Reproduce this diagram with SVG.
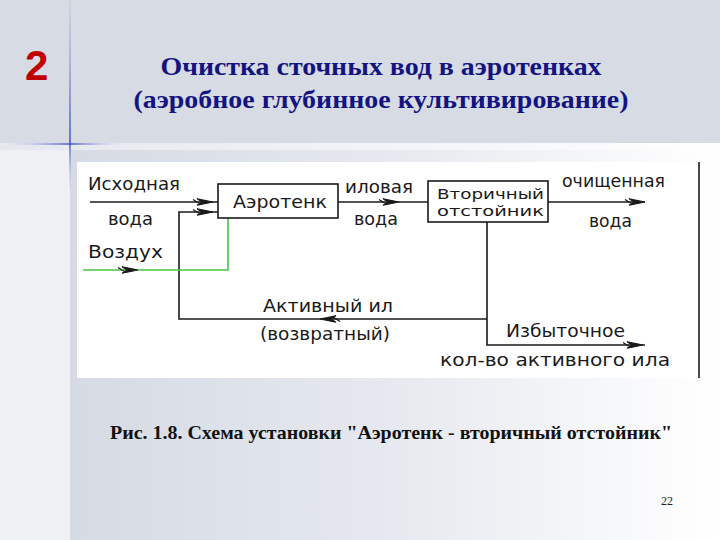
<svg xmlns="http://www.w3.org/2000/svg" width="720" height="540" viewBox="0 0 720 540">
<defs>
<linearGradient id="bgLow" x1="0" y1="0" x2="1" y2="0">
<stop offset="0" stop-color="#d2d7e1"/>
<stop offset="0.55" stop-color="#e6e9ef"/>
<stop offset="1" stop-color="#ffffff"/>
</linearGradient>
<linearGradient id="band" x1="0" y1="0" x2="1" y2="0">
<stop offset="0" stop-color="#e4e7ee"/>
<stop offset="1" stop-color="#ffffff"/>
</linearGradient>
<linearGradient id="vline" x1="0" y1="0" x2="0" y2="1">
<stop offset="0" stop-color="#c8ccd8" stop-opacity="0.6"/>
<stop offset="0.75" stop-color="#3a44c0"/>
<stop offset="1" stop-color="#c8ccd8" stop-opacity="0.2"/>
</linearGradient>
<linearGradient id="hline" x1="0" y1="0" x2="1" y2="0">
<stop offset="0" stop-color="#ffffff" stop-opacity="0.3"/>
<stop offset="0.54" stop-color="#3a44c0"/>
<stop offset="1" stop-color="#ffffff" stop-opacity="0.2"/>
</linearGradient>
<path id="ah" d="M0,0 L-16,-3.2 L-11,0 L-16,3.2 Z M-20,-2.5 L-12,2.5"/>
<style>
.ln{stroke:#1a1a1a;stroke-width:1.6;fill:none}
.gr{stroke:#48c848;stroke-width:1.6;fill:none}
.box{fill:#ffffff;stroke:#1a1a1a;stroke-width:1.6}
.ah{fill:#1a1a1a;stroke:#1a1a1a;stroke-width:1.2}
.cad{font-family:"DejaVu Sans",sans-serif;font-size:17px;fill:#1a1a1a;font-weight:normal}
.cad14{font-family:"DejaVu Sans",sans-serif;font-size:14px;fill:#1a1a1a;font-weight:normal}
.title{font-family:"Liberation Serif",serif;font-weight:bold;font-size:26px;fill:#141480;text-anchor:middle}
.cap{font-family:"Liberation Serif",serif;font-weight:bold;font-size:19px;fill:#111111}
</style>
</defs>

<!-- background -->
<rect x="0" y="0" width="720" height="540" fill="url(#bgLow)"/>
<rect x="0" y="150" width="70" height="390" fill="#eef0f4"/>
<rect x="0" y="0" width="720" height="143" fill="#d6dbe4"/>
<rect x="0" y="143" width="720" height="7" fill="url(#band)"/>
<rect x="69.3" y="0" width="1.4" height="190" fill="url(#vline)"/>
<rect x="0" y="143.3" width="130" height="1.4" fill="url(#hline)"/>

<!-- header -->
<text x="25" y="80" font-family="Liberation Sans, sans-serif" font-weight="bold" font-size="42" fill="#c00000">2</text>
<text class="title" x="381" y="75" textLength="441" lengthAdjust="spacingAndGlyphs">Очистка сточных вод в аэротенках</text>
<text class="title" x="381" y="108" textLength="495" lengthAdjust="spacingAndGlyphs">(аэробное глубинное культивирование)</text>

<!-- diagram panel -->
<rect x="77" y="162" width="626" height="216" fill="#ffffff"/>
<line x1="699" y1="162" x2="699" y2="378" stroke="#1a1a1a" stroke-width="1.6"/>

<g id="connectors">
<polyline class="ln" points="90,202 218,202"/>
<polyline class="ln" points="487,319 179,319 179,212 218,212"/>
<polyline class="gr" points="83,270 228,270 228,218"/>
<polyline class="ln" points="338,202 428,202"/>
<polyline class="ln" points="548,202 645,202"/>
<polyline class="ln" points="487,222 487,345 645,345"/>
<use href="#ah" class="ah" transform="translate(213,202)"/>
<use href="#ah" class="ah" transform="translate(213,212)"/>
<use href="#ah" class="ah" transform="translate(138,270)"/>
<use href="#ah" class="ah" transform="translate(399,202)"/>
<use href="#ah" class="ah" transform="translate(645,202)"/>
<use href="#ah" class="ah" transform="translate(320,319) rotate(180)"/>
<use href="#ah" class="ah" transform="translate(643,345)"/>
</g>

<g id="aerotank">
<rect class="box" x="218" y="184" width="120" height="34"/>
<text class="cad" x="233" y="208" textLength="94" lengthAdjust="spacingAndGlyphs">Аэротенк</text>
</g>

<g id="settler">
<rect class="box" x="428" y="181" width="120" height="41"/>
<text class="cad14" x="437" y="199" textLength="107" lengthAdjust="spacingAndGlyphs">Вторичный</text>
<text class="cad14" x="437" y="216" textLength="107" lengthAdjust="spacingAndGlyphs">отстойник</text>
</g>

<g id="labels">
<text class="cad" x="88" y="190" textLength="92" lengthAdjust="spacingAndGlyphs">Исходная</text>
<text class="cad" x="108" y="225" textLength="45" lengthAdjust="spacingAndGlyphs">вода</text>
<text class="cad" x="88" y="258" textLength="75" lengthAdjust="spacingAndGlyphs">Воздух</text>
<text class="cad" x="345" y="193" textLength="68" lengthAdjust="spacingAndGlyphs">иловая</text>
<text class="cad" x="354" y="225" textLength="44" lengthAdjust="spacingAndGlyphs">вода</text>
<text class="cad" x="562" y="187" textLength="103" lengthAdjust="spacingAndGlyphs">очищенная</text>
<text class="cad" x="589" y="227" textLength="43" lengthAdjust="spacingAndGlyphs">вода</text>
<text class="cad" x="263" y="312" textLength="130" lengthAdjust="spacingAndGlyphs">Активный  ил</text>
<text class="cad" x="260" y="340" textLength="130" lengthAdjust="spacingAndGlyphs">(возвратный)</text>
<text class="cad" x="506" y="337" textLength="119" lengthAdjust="spacingAndGlyphs">Избыточное</text>
<text class="cad" x="440" y="366" textLength="230" lengthAdjust="spacingAndGlyphs">кол-во активного ила</text>
</g>

<!-- caption -->
<text class="cap" x="110" y="439" textLength="562" lengthAdjust="spacingAndGlyphs">Рис. 1.8. Схема установки "Аэротенк - вторичный отстойник"</text>
<text x="661" y="505" font-family="Liberation Serif, serif" font-size="12" fill="#222222">22</text>
</svg>
